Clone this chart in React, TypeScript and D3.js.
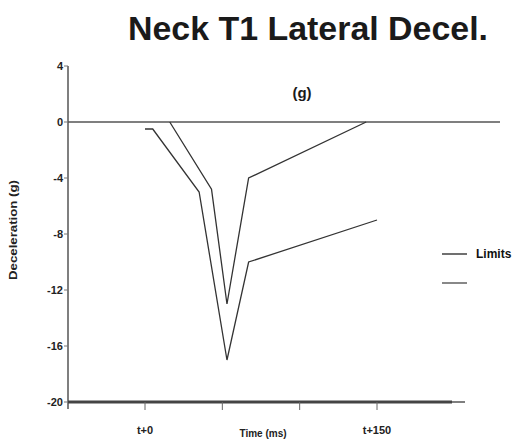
import React from "react";
import * as d3 from "d3";

const yTicks = [4, 0, -4, -8, -12, -16, -20];
const xTicks = [0, 50, 100, 150];
const xTickLabels: Record<number, string> = { 0: "t+0", 150: "t+150" };
const upperT = [0, 5, 35, 53, 67, 150];
const upperV = [-0.5, -0.5, -5, -17, -10, -7];
const lowerT = [16, 43, 53, 67, 143];
const lowerV = [0, -4.8, -13, -4, 0];
const legendLabels = ["Limits", ""];

export default function App() {
  const W = 512, H = 440;
  const x = d3.scaleLinear().domain([0, 150]).range([145, 377]);
  const y = d3.scaleLinear().domain([4, -20]).range([66, 402]);
  const line = d3.line<[number, number]>().x(d => x(d[0])).y(d => y(d[1]));
  const up = upperT.map((t, i) => [t, upperV[i]] as [number, number]);
  const lo = lowerT.map((t, i) => [t, lowerV[i]] as [number, number]);
  const ax = 68;
  const font = "'Liberation Sans', Arial, sans-serif";
  return (
    <svg width={W} height={H} style={{ position: "absolute", left: 0, top: 0, background: "#fff" }} fontFamily={font}>
      <text x={308} y={40} textAnchor="middle" fontSize={33} fontWeight="bold" fill="#1a1a1a" textLength={360} lengthAdjust="spacingAndGlyphs">Neck T1 Lateral Decel.</text>
      <text x={302} y={98} textAnchor="middle" fontSize={15} fontWeight="bold" fill="#1a1a1a">(g)</text>
      {/* y axis */}
      <line x1={ax} x2={ax} y1={y(4)} y2={409} stroke="#555" strokeWidth={1.5} />
      {yTicks.map(t => (
        <g key={t}>
          <line x1={ax - 4} x2={ax} y1={y(t)} y2={y(t)} stroke="#777" strokeWidth={1} />
          <text x={ax - 5} y={y(t) + 4} textAnchor="end" fontSize={11} fontWeight="bold" fill="#222">{t}</text>
        </g>
      ))}
      <text transform={`translate(17,${230}) rotate(-90)`} textAnchor="middle" fontSize={11} fontWeight="bold" fill="#222" textLength={100} lengthAdjust="spacingAndGlyphs">Deceleration (g)</text>
      {/* zero line */}
      <line x1={ax} x2={500} y1={y(0)} y2={y(0)} stroke="#555" strokeWidth={1.5} />
      {/* x axis */}
      <line x1={ax} x2={452} y1={y(-20)} y2={y(-20)} stroke="#444" strokeWidth={3} />
      <line x1={452} x2={465} y1={y(-20)} y2={y(-20)} stroke="#555" strokeWidth={1.5} />
      {xTicks.map(t => (
        <g key={t}>
          <line x1={x(t)} x2={x(t)} y1={y(-20)} y2={y(-20) + 8} stroke="#666" strokeWidth={1} />
          {xTickLabels[t] && <text x={x(t)} y={434} textAnchor="middle" fontSize={11} fontWeight="bold" fill="#222">{xTickLabels[t]}</text>}
        </g>
      ))}
      <text x={263} y={437} textAnchor="middle" fontSize={10} fontWeight="bold" fill="#222">Time (ms)</text>
      {/* series */}
      <path d={line(up) || ""} fill="none" stroke="#333" strokeWidth={1.3} />
      <path d={line(lo) || ""} fill="none" stroke="#333" strokeWidth={1.3} />
      {/* legend */}
      {legendLabels.map((l, i) => (
        <g key={i}>
          <line x1={442} x2={467} y1={254 + i * 29} y2={254 + i * 29} stroke={i === 0 ? "#222" : "#888"} strokeWidth={i === 0 ? 1.3 : 2} />
          {l && <text x={476} y={258 + i * 29} fontSize={12} fontWeight="bold" fill="#111">{l}</text>}
        </g>
      ))}
    </svg>
  );
}
